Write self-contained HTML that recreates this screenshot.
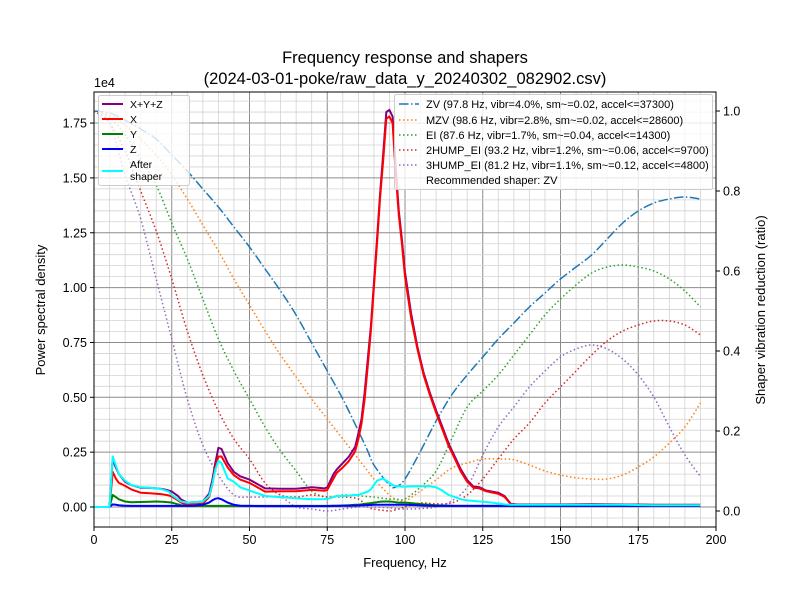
<!DOCTYPE html>
<html><head><meta charset="utf-8"><style>
body{margin:0;background:#fff;}
svg{display:block;font-family:"Liberation Sans","DejaVu Sans",sans-serif;}
</style></head><body>
<svg id="chart" width="800" height="600" viewBox="0 0 800 600"></svg>
<script>
// ---- data ----
const freqs=[0,5,6,7,8,10,12,15,18,20,22,24,25,27,28,30,32,35,37,38,39,40,41,43,45,47,50,55,60,65,70,72,74,75,77,78,80,82,84,85,86,87,88,89,90,91,92,93,94,95,96,97,98,99,100,102,104,106,108,110,112,114,116,118,120,122,124,126,128,130,132,134,136,140,150,160,170,180,190,195];
const psdSum=[0,0,0.22,0.18,0.15,0.115,0.1,0.088,0.087,0.085,0.082,0.075,0.07,0.05,0.034,0.02,0.022,0.025,0.06,0.12,0.2,0.27,0.265,0.2,0.16,0.14,0.125,0.085,0.083,0.083,0.09,0.088,0.085,0.09,0.15,0.17,0.2,0.23,0.275,0.336,0.4,0.52,0.67,0.82,1.02,1.22,1.43,1.61,1.8,1.81,1.78,1.55,1.35,1.22,1.07,0.88,0.73,0.61,0.52,0.44,0.366,0.29,0.23,0.17,0.123,0.093,0.09,0.075,0.07,0.065,0.05,0.015,0.012,0.012,0.012,0.013,0.012,0.01,0.01,0.01];
const psdX=[0,0,0.16,0.13,0.11,0.096,0.08,0.065,0.063,0.06,0.058,0.053,0.048,0.03,0.02,0.01,0.012,0.015,0.045,0.1,0.18,0.23,0.23,0.18,0.145,0.125,0.11,0.07,0.072,0.072,0.078,0.076,0.074,0.078,0.13,0.155,0.18,0.21,0.255,0.31,0.38,0.49,0.64,0.8,1.0,1.2,1.41,1.58,1.77,1.78,1.75,1.52,1.33,1.2,1.05,0.86,0.72,0.6,0.51,0.43,0.355,0.28,0.22,0.16,0.115,0.088,0.085,0.072,0.066,0.06,0.046,0.013,0.011,0.011,0.011,0.012,0.011,0.009,0.009,0.009];
const psdY=[0,0,0.055,0.045,0.035,0.025,0.022,0.023,0.024,0.025,0.024,0.022,0.02,0.012,0.008,0.005,0.005,0.005,0.005,0.005,0.005,0.005,0.005,0.005,0.005,0.005,0.005,0.005,0.005,0.005,0.005,0.005,0.005,0.005,0.006,0.006,0.007,0.008,0.01,0.01,0.012,0.014,0.016,0.018,0.02,0.022,0.024,0.025,0.025,0.025,0.024,0.022,0.02,0.02,0.02,0.018,0.015,0.012,0.01,0.008,0.007,0.006,0.005,0.005,0.005,0.005,0.005,0.005,0.005,0.005,0.005,0.005,0.005,0.005,0.005,0.005,0.005,0.005,0.005,0.005];
const psdZ=[0,0,0.012,0.01,0.008,0.006,0.005,0.005,0.005,0.005,0.005,0.005,0.005,0.005,0.005,0.005,0.006,0.01,0.02,0.03,0.038,0.04,0.035,0.02,0.01,0.006,0.005,0.004,0.004,0.004,0.004,0.004,0.004,0.004,0.005,0.005,0.006,0.006,0.007,0.007,0.008,0.008,0.009,0.009,0.01,0.01,0.01,0.01,0.01,0.01,0.01,0.01,0.01,0.01,0.01,0.009,0.008,0.007,0.006,0.005,0.005,0.005,0.005,0.005,0.005,0.005,0.005,0.005,0.005,0.005,0.005,0.005,0.005,0.005,0.005,0.005,0.005,0.005,0.005,0.005];
const psdAfter=[0,0,0.23,0.19,0.15,0.12,0.1,0.09,0.088,0.085,0.08,0.07,0.055,0.035,0.025,0.02,0.022,0.025,0.05,0.1,0.17,0.21,0.2,0.13,0.115,0.09,0.075,0.05,0.045,0.04,0.035,0.035,0.036,0.037,0.045,0.05,0.05,0.052,0.055,0.055,0.06,0.065,0.07,0.08,0.1,0.12,0.125,0.13,0.12,0.11,0.1,0.095,0.095,0.093,0.093,0.094,0.095,0.095,0.094,0.09,0.075,0.055,0.045,0.035,0.03,0.028,0.025,0.023,0.02,0.016,0.012,0.01,0.01,0.01,0.01,0.01,0.01,0.008,0.008,0.008];
const shFreqs=[0,5,10,15,20,25,30,35,40,45,50,55,60,65,70,75,80,85,88,90,95,97,100,105,110,115,120,125,130,135,140,145,150,155,160,165,170,175,180,185,190,195];
const zv=[1.0,0.995,0.977,0.955,0.93,0.89,0.85,0.805,0.76,0.71,0.66,0.605,0.55,0.49,0.42,0.35,0.28,0.2,0.15,0.115,0.065,0.06,0.08,0.15,0.225,0.29,0.34,0.385,0.43,0.47,0.51,0.545,0.58,0.61,0.64,0.68,0.72,0.75,0.77,0.78,0.785,0.78];
const mzv=[1.0,0.99,0.965,0.93,0.89,0.84,0.78,0.715,0.65,0.58,0.515,0.45,0.39,0.335,0.28,0.23,0.18,0.13,0.1,0.08,0.04,0.03,0.025,0.05,0.078,0.107,0.12,0.13,0.13,0.128,0.115,0.1,0.09,0.083,0.08,0.08,0.09,0.11,0.135,0.17,0.21,0.27];
const ei=[1.0,0.985,0.94,0.88,0.815,0.72,0.63,0.53,0.43,0.35,0.28,0.21,0.15,0.1,0.05,0.035,0.04,0.038,0.036,0.035,0.03,0.03,0.03,0.06,0.1,0.18,0.26,0.3,0.34,0.39,0.44,0.49,0.53,0.565,0.595,0.61,0.615,0.61,0.6,0.58,0.55,0.51];
const hump2=[1.0,0.97,0.9,0.8,0.7,0.58,0.45,0.34,0.25,0.18,0.13,0.07,0.04,0.035,0.04,0.035,0.035,0.03,0.01,0.005,0.0,0.003,0.01,0.02,0.018,0.02,0.04,0.08,0.13,0.18,0.22,0.27,0.31,0.35,0.39,0.425,0.45,0.465,0.475,0.475,0.465,0.44];
const hump3=[1.0,0.97,0.84,0.73,0.58,0.43,0.28,0.165,0.09,0.04,0.035,0.035,0.035,0.01,0.005,0.0,0.005,0.01,0.01,0.01,0.008,0.006,0.005,0.006,0.01,0.025,0.06,0.14,0.21,0.26,0.31,0.35,0.385,0.405,0.415,0.405,0.38,0.34,0.285,0.21,0.14,0.086];
const xTicks=[0,25,50,75,100,125,150,175,200];
const yTicks=[0,0.25,0.5,0.75,1.0,1.25,1.5,1.75];
const yTickLabels=["0.00","0.25","0.50","0.75","1.00","1.25","1.50","1.75"];
const rTicks=[0,0.2,0.4,0.6,0.8,1.0];
const rTickLabels=["0.0","0.2","0.4","0.6","0.8","1.0"];

// ---- axes ----
const L=94,R=716,T=92,B=527;
const xs=f=>L+(f-0)*(R-L)/200;
const ys=v=>507-v*219.4;
const yr=r=>511-r*400;
const svg=document.getElementById('chart');
const NS='http://www.w3.org/2000/svg';
function mk(tag,attrs,parent){const e=document.createElementNS(NS,tag);for(const k in attrs)e.setAttribute(k,attrs[k]);(parent||svg).appendChild(e);return e;}

// grid
const grid=mk('g',{});


for(let f=0;f<=200;f+=5){const maj=f%25===0;mk('line',{x1:xs(f),x2:xs(f),y1:T,y2:B,stroke:maj?'#8c8c8c':'#d3d3d3','stroke-width':maj?1:0.8},grid);}
for(let i=-2;i<=38;i++){const v=i*0.05;const y=ys(v);if(y<T||y>B)continue;const maj=i%5===0;mk('line',{x1:L,x2:R,y1:y,y2:y,stroke:maj?'#8c8c8c':'#d3d3d3','stroke-width':maj?1:0.8},grid);}

function path(xsArr,vals,scale){return xsArr.map((f,i)=>(i?'L':'M')+xs(f).toFixed(1)+','+scale(vals[i]).toFixed(1)).join('');}
function smooth(xsArr,vals,scale){
  const p=xsArr.map((f,i)=>[xs(f),scale(vals[i])]);
  let d='M'+p[0][0].toFixed(1)+','+p[0][1].toFixed(1);
  for(let i=0;i<p.length-1;i++){
    const p0=p[Math.max(0,i-1)],p1=p[i],p2=p[i+1],p3=p[Math.min(p.length-1,i+2)];
    const c1=[p1[0]+(p2[0]-p0[0])/6,p1[1]+(p2[1]-p0[1])/6];
    const c2=[p2[0]-(p3[0]-p1[0])/6,p2[1]-(p3[1]-p1[1])/6];
    d+='C'+c1[0].toFixed(1)+','+c1[1].toFixed(1)+' '+c2[0].toFixed(1)+','+c2[1].toFixed(1)+' '+p2[0].toFixed(1)+','+p2[1].toFixed(1);
  }
  return d;
}
const clip=mk('clipPath',{id:'pc'});mk('rect',{x:L,y:T,width:R-L,height:B-T},clip);

// shaper curves
const shaperSeries=[['zv',zv,'#1f77b4','9.6,2.4,1.5,2.4'],['mzv',mzv,'#ff7f0e','1.5,2.5'],['ei',ei,'#2ca02c','1.5,2.5'],['2hump-ei',hump2,'#d62728','1.5,2.5'],['3hump-ei',hump3,'#9467bd','1.5,2.5']];
shaperSeries.forEach(s=>{const p=mk('path',{d:smooth(shFreqs,s[1],yr),fill:'none',stroke:s[2],'stroke-width':1.5,'stroke-dasharray':s[3],'clip-path':'url(#pc)'});

});

// psd curves
const psdSeries=[['psd-sum',psdSum,'purple'],['psd-x',psdX,'red'],['psd-y',psdY,'green'],['psd-z',psdZ,'blue'],['psd-after-shaper',psdAfter,'cyan']];
psdSeries.forEach(s=>{const p=mk('path',{d:path(freqs,s[1],ys),fill:'none',stroke:s[2],'stroke-width':2,'stroke-linejoin':'round','clip-path':'url(#pc)'});

});

// frame
mk('rect',{x:L,y:T,width:R-L,height:B-T,fill:'none',stroke:'#000','stroke-width':1});

// ticks
xTicks.forEach(f=>{mk('line',{x1:xs(f),x2:xs(f),y1:B,y2:B+4,stroke:'#000'});const t=mk('text',{x:xs(f),y:B+17,'text-anchor':'middle','font-size':12.5});t.textContent=f;

});
yTicks.forEach((v,i)=>{mk('line',{x1:L-4,x2:L,y1:ys(v),y2:ys(v),stroke:'#000'});const t=mk('text',{x:L-7,y:ys(v)+4.5,'text-anchor':'end','font-size':12.5});t.textContent=yTickLabels[i];

});
rTicks.forEach((r,i)=>{mk('line',{x1:R,x2:R+4,y1:yr(r),y2:yr(r),stroke:'#000'});const t=mk('text',{x:R+7,y:yr(r)+4.5,'font-size':12.5});t.textContent=rTickLabels[i];

});
</script>
<svg style="position:absolute;left:0;top:0" width="800" height="600">
<text x="405" y="63" text-anchor="middle" font-size="16.5" font-family="Liberation Sans, sans-serif">Frequency response and shapers</text>
<text x="405" y="84" text-anchor="middle" font-size="16.5" font-family="Liberation Sans, sans-serif">(2024-03-01-poke/raw_data_y_20240302_082902.csv)</text>
<text x="94" y="87" font-size="12.5" font-family="Liberation Sans, sans-serif">1e4</text>
<text x="405" y="567" text-anchor="middle" font-size="13" font-family="Liberation Sans, sans-serif">Frequency, Hz</text>
<text transform="translate(45,310) rotate(-90)" text-anchor="middle" font-size="13" font-family="Liberation Sans, sans-serif">Power spectral density</text>
<text transform="translate(765,310) rotate(-90)" text-anchor="middle" font-size="13" font-family="Liberation Sans, sans-serif">Shaper vibration reduction (ratio)</text>
<g font-family="Liberation Sans, sans-serif" font-size="10.5">
<rect x="98.5" y="95.5" width="91" height="90" rx="2" fill="#fff" fill-opacity="0.8" stroke="#ccc"/>
<line x1="102" x2="123" y1="104" y2="104" stroke="purple" stroke-width="2"/><text x="130" y="108">X+Y+Z</text>
<line x1="102" x2="123" y1="119" y2="119" stroke="red" stroke-width="2"/><text x="130" y="123">X</text>
<line x1="102" x2="123" y1="134" y2="134" stroke="green" stroke-width="2"/><text x="130" y="138">Y</text>
<line x1="102" x2="123" y1="149" y2="149" stroke="blue" stroke-width="2"/><text x="130" y="153">Z</text>
<line x1="102" x2="123" y1="171" y2="171" stroke="cyan" stroke-width="2"/><text x="130" y="168">After</text><text x="130" y="180">shaper</text>
</g>
<g font-family="Liberation Sans, sans-serif" font-size="11">
<rect x="394.5" y="94.5" width="318" height="95" rx="2" fill="#fff" fill-opacity="0.8" stroke="#ccc"/>
<line x1="399" x2="419" y1="104" y2="104" stroke="#1f77b4" stroke-width="1.5" stroke-dasharray="9.6,2.4,1.5,2.4"/><text x="426" y="108">ZV (97.8 Hz, vibr=4.0%, sm~=0.02, accel&lt;=37300)</text>
<line x1="399" x2="419" y1="120" y2="120" stroke="#ff7f0e" stroke-width="1.5" stroke-dasharray="1.5,2.5"/><text x="426" y="124">MZV (98.6 Hz, vibr=2.8%, sm~=0.02, accel&lt;=28600)</text>
<line x1="399" x2="419" y1="135" y2="135" stroke="#2ca02c" stroke-width="1.5" stroke-dasharray="1.5,2.5"/><text x="426" y="139">EI (87.6 Hz, vibr=1.7%, sm~=0.04, accel&lt;=14300)</text>
<line x1="399" x2="419" y1="150" y2="150" stroke="#d62728" stroke-width="1.5" stroke-dasharray="1.5,2.5"/><text x="426" y="154">2HUMP_EI (93.2 Hz, vibr=1.2%, sm~=0.06, accel&lt;=9700)</text>
<line x1="399" x2="419" y1="165" y2="165" stroke="#9467bd" stroke-width="1.5" stroke-dasharray="1.5,2.5"/><text x="426" y="169">3HUMP_EI (81.2 Hz, vibr=1.1%, sm~=0.12, accel&lt;=4800)</text>
<text x="426" y="184">Recommended shaper: ZV</text>
</g>
</svg>
</body></html>
